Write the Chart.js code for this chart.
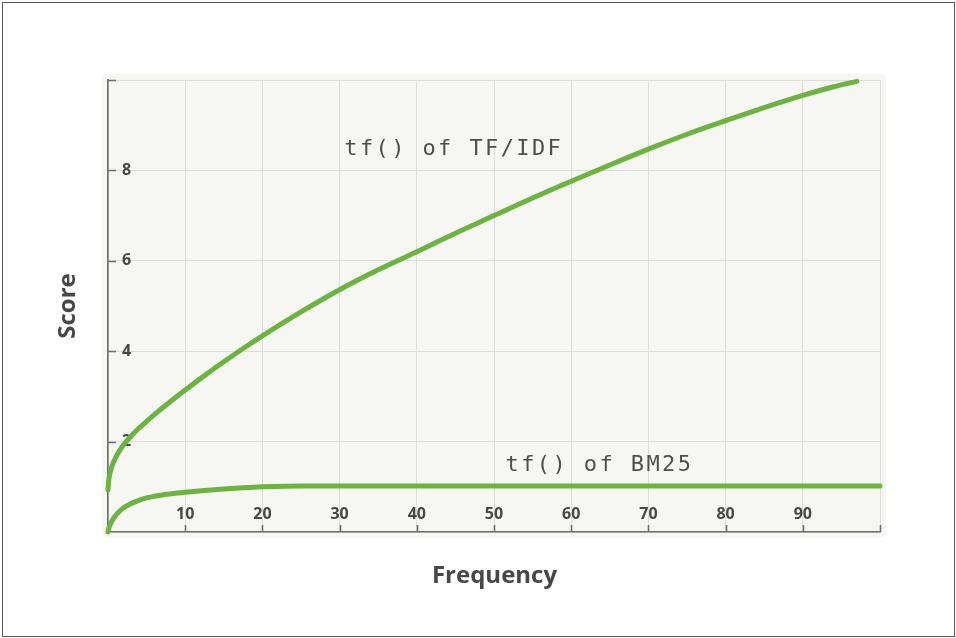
<!DOCTYPE html>
<html><head><meta charset="utf-8">
<script src="https://cdn.jsdelivr.net/npm/chart.js@4/dist/chart.umd.min.js"></script>
<style>html,body{margin:0;padding:0;background:#fff}canvas{display:block}</style>
</head><body>
<canvas id="c" width="956" height="638"></canvas>
<script>
// ---- data ----
const tfidfFreq  = [0, 0.1, 0.25, 0.5, 1, 1.5, 2, 3, 4, 5, 6.5, 8, 10, 12.5, 15, 17.5, 20, 25, 30, 35, 40, 45, 50, 55, 60, 65, 70, 75, 80, 85, 90, 94, 97];
const tfidfScore = [0.93, 1.15, 1.3, 1.45, 1.65, 1.8, 1.925, 2.125, 2.295, 2.45, 2.67, 2.875, 3.14, 3.46, 3.765, 4.06, 4.34, 4.87, 5.36, 5.8, 6.2, 6.61, 7.0, 7.39, 7.76, 8.12, 8.47, 8.8, 9.1, 9.39, 9.66, 9.85, 9.97];
const bm25Freq   = [0, 0.1, 0.25, 0.5, 1, 1.5, 2, 3, 4, 5, 6, 7, 8.5, 10, 12.5, 15, 17.5, 20, 25, 40, 100];
const bm25Score  = [0, 0.07, 0.15, 0.24, 0.37, 0.46, 0.53, 0.63, 0.7, 0.755, 0.79, 0.82, 0.852, 0.878, 0.918, 0.952, 0.98, 1.0, 1.02, 1.02, 1.02];
const xTickLabels = ['10','20','30','40','50','60','70','80','90'];
const yTickLabels = ['2','4','6','8'];
const seriesNames = ['tf() of TF/IDF', 'tf() of BM25'];
const xTitle = 'Frequency';
const yTitle = 'Score';

const GREEN = '#6cb33f';
const TEXT = '#474747';
const AXIS = '#6e6e6e';

const toPts = (xs, ys) => xs.map((v, i) => ({x: v, y: ys[i]}));

const deco = {
  id: 'deco',
  beforeDraw(chart) {
    const {ctx, chartArea: a} = chart;
    ctx.save();
    ctx.fillStyle = '#fff';
    ctx.fillRect(0, 0, chart.width, chart.height);
    ctx.strokeStyle = '#5a5a5a';
    ctx.lineWidth = 1;
    ctx.strokeRect(2.5, 2.5, chart.width - 4, chart.height - 4);
    ctx.fillStyle = '#f6f7f3';
    ctx.beginPath();
    ctx.roundRect(a.left - 6, a.top - 6, a.width + 12, a.height + 12, 6);
    ctx.fill();
    ctx.restore();
  },
  beforeDatasetsDraw(chart) {
    const {ctx, chartArea: a, scales: {x, y}} = chart;
    ctx.save();
    ctx.strokeStyle = AXIS;
    ctx.lineWidth = 1.6;
    ctx.beginPath();
    [2, 4, 6, 8, 10].forEach(v => {
      const py = Math.round(y.getPixelForValue(v)) + 0.5;
      ctx.moveTo(a.left, py); ctx.lineTo(a.left + 8, py);
    });
    [10, 20, 30, 40, 50, 60, 70, 80, 90, 100].forEach(v => {
      const px = Math.round(x.getPixelForValue(v)) + 0.5;
      ctx.moveTo(px, a.bottom); ctx.lineTo(px, a.bottom - 7);
    });
    ctx.stroke();
    // axis titles
    ctx.fillStyle = TEXT;
    ctx.font = 'bold 24px "Open Sans", sans-serif';
    ctx.textAlign = 'center';
    ctx.textBaseline = 'middle';
    ctx.fillText(xTitle, (a.left + a.right) / 2 + 0.5, 576);
    ctx.translate(68, (a.top + a.bottom) / 2);
    ctx.rotate(-Math.PI / 2);
    ctx.fillText(yTitle, 0, 0);
    ctx.restore();
  },
  afterDatasetsDraw(chart) {
    const {ctx, scales: {x, y}} = chart;
    ctx.save();
    ctx.fillStyle = '#4e4e4e';
    ctx.font = '22px "DejaVu Sans Mono", monospace';
    ctx.letterSpacing = '2.4px';
    ctx.textAlign = 'left';
    ctx.textBaseline = 'middle';
    ctx.fillText(seriesNames[0], x.getPixelForValue(30.6), y.getPixelForValue(8.46));
    ctx.fillText(seriesNames[1], x.getPixelForValue(51.5), y.getPixelForValue(1.48));
    ctx.restore();
  }
};

new Chart(document.getElementById('c'), {
  type: 'line',
  data: {
    datasets: [
      {label: seriesNames[0], data: toPts(tfidfFreq, tfidfScore)},
      {label: seriesNames[1], data: toPts(bm25Freq, bm25Score)}
    ]
  },
  options: {
    responsive: false,
    animation: false,
    devicePixelRatio: 1,
    layout: {padding: {left: 108, right: 76, top: 80, bottom: 106}},
    elements: {
      line: {borderColor: GREEN, borderWidth: 5, cubicInterpolationMode: 'monotone', borderCapStyle: 'round', borderJoinStyle: 'round', fill: false},
      point: {radius: 0, hoverRadius: 0}
    },
    datasets: {line: {clip: 6}},
    plugins: {legend: {display: false}, tooltip: {enabled: false}},
    scales: {
      x: {
        type: 'linear', min: 0, max: 100,
        afterFit(s) { s.height = 0; },
        ticks: {
          stepSize: 10, mirror: true, padding: 8,
          color: TEXT, font: {family: '"Open Sans", sans-serif', size: 16, weight: 'bold'},
          maxRotation: 0, autoSkip: false,
          callback: v => xTickLabels.includes(String(v)) ? String(v) : ''
        },
        grid: {color: '#dddddd', lineWidth: 1, drawTicks: false},
        border: {color: AXIS, width: 1.6}
      },
      y: {
        type: 'linear', min: 0, max: 10,
        afterFit(s) { s.width = 0; },
        ticks: {
          stepSize: 2, mirror: true, padding: 14,
          color: TEXT, font: {family: '"Open Sans", sans-serif', size: 16, weight: 'bold'},
          callback: v => yTickLabels.includes(String(v)) ? String(v) : ''
        },
        grid: {color: '#dddddd', lineWidth: 1, drawTicks: false},
        border: {color: AXIS, width: 1.6}
      }
    }
  },
  plugins: [deco]
});
</script>
</body></html>
